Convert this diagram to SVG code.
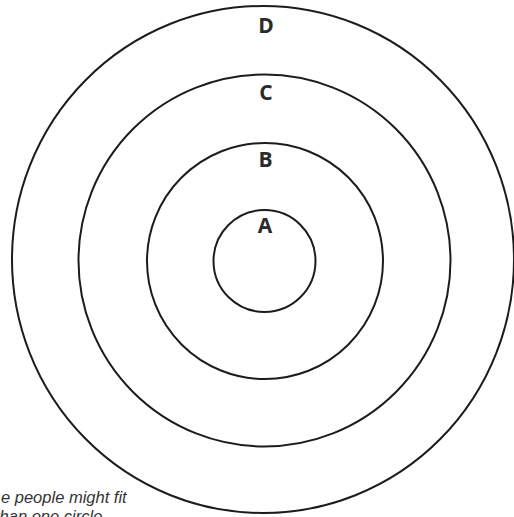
<svg xmlns="http://www.w3.org/2000/svg" width="514" height="517" viewBox="0 0 514 517">
  <style>
    .ring { fill: none; stroke: #1c1c1c; stroke-width: 2; }
    .lbl { font-family: "Open Sans", "Noto Sans", sans-serif; font-weight: 700; font-size: 21px; fill: #2a2a2a; text-anchor: middle; }
    .note { font-family: "Liberation Sans", Arial, sans-serif; font-style: italic; font-size: 16.5px; fill: #333; }
  </style>
  <rect width="514" height="517" fill="#ffffff"/>
  <g id="ring-D">
    <ellipse class="ring" cx="263" cy="259.5" rx="251" ry="253.5"/>
    <text class="lbl" x="266" y="33">D</text>
  </g>
  <g id="ring-C">
    <circle class="ring" cx="264.5" cy="260.5" r="186"/>
    <text class="lbl" x="266" y="100">C</text>
  </g>
  <g id="ring-B">
    <circle class="ring" cx="265" cy="261" r="118"/>
    <text class="lbl" x="265.5" y="167">B</text>
  </g>
  <g id="ring-A">
    <circle class="ring" cx="264.5" cy="261" r="51"/>
    <text class="lbl" x="265" y="233">A</text>
  </g>
  <g id="note">
    <text class="note" x="1" y="503.3">e people might fit</text>
    <text class="note" x="-5" y="522">than one circle</text>
  </g>
</svg>
